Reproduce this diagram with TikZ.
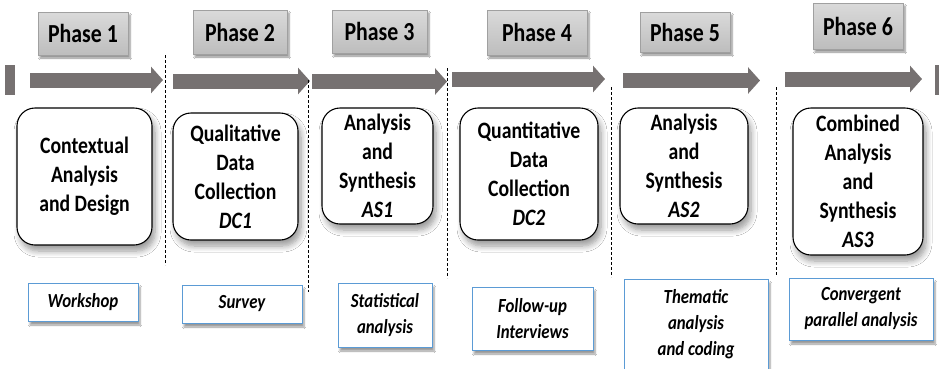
\documentclass[tikz,border=0pt]{standalone}
\usepackage{fontspec}
\setmainfont{Carlito}[FakeStretch=0.84]
\usetikzlibrary{arrows.meta,shadows,shadows.blur}
\definecolor{arrowgray}{HTML}{767171}
\definecolor{phasetop}{HTML}{DADADA}
\definecolor{phasebot}{HTML}{BDBDBD}
\definecolor{phaseline}{HTML}{A0A0A0}
\definecolor{bluebd}{HTML}{5B9BD5}
\tikzset{
  phasebox/.style={draw=phaseline, line width=0.6pt, top color=phasetop, bottom color=phasebot,
    blur shadow={shadow blur steps=6, shadow xshift=2pt, shadow yshift=-3pt, shadow opacity=45},
    font=\bfseries\fontsize{26}{30}\selectfont, inner sep=0pt},
  rbox/.style={draw=black, line width=1.1pt, fill=white, rounded corners=18pt,
    blur shadow={shadow blur steps=8, shadow xshift=3pt, shadow yshift=-6pt, shadow opacity=40, shadow blur radius=6pt},
    align=center, font=\bfseries\fontsize{23.5}{29}\selectfont, inner sep=0pt},
  mbox/.style={draw=bluebd, line width=0.9pt, fill=white,
    blur shadow={shadow blur steps=6, shadow xshift=2pt, shadow yshift=-4pt, shadow opacity=40},
    align=center, font=\bfseries\itshape\fontsize{20}{26}\selectfont, inner sep=0pt},
  flow/.style={draw=arrowgray, line width=15pt, -{Triangle[width=26pt,length=12pt]}},
  sep/.style={draw=black, line width=0.5pt, dash pattern=on 3pt off 2pt},
  bar/.style={fill=arrowgray, draw=none}
}
\begin{document}
\begin{tikzpicture}[x=1pt,y=-1pt]
\useasboundingbox (0,0) rectangle (939,368);
\fill[white] (0,0) rectangle (939,368);
% phase labels
\node[phasebox, minimum width=90pt, minimum height=43pt] (p1) at (83,33.5) {Phase 1};
\node[phasebox, minimum width=94pt, minimum height=44pt] (p2) at (240,32) {Phase 2};
\node[phasebox, minimum width=95pt, minimum height=43pt] (p3) at (379.5,31.5) {Phase 3};
\node[phasebox, minimum width=100pt, minimum height=45pt] (p4) at (537,32.5) {Phase 4};
\node[phasebox, minimum width=90pt, minimum height=40pt] (p5) at (685,32) {Phase 5};
\node[phasebox, minimum width=90pt, minimum height=46pt] (p6) at (858,26) {Phase 6};
% timeline
\fill[bar] (5,65) rectangle (15,95);
\fill[bar] (935,65) rectangle (942,95);
\coordinate (a1s) at (30,80);  \coordinate (a1e) at (163,80);
\coordinate (a2s) at (173,81); \coordinate (a2e) at (310,81);
\coordinate (a3s) at (312,81.5); \coordinate (a3e) at (447,81.5);
\coordinate (a4s) at (452,79); \coordinate (a4e) at (605,79);
\coordinate (a5s) at (623,80.5); \coordinate (a5e) at (760,80.5);
\coordinate (a6s) at (785,79); \coordinate (a6e) at (922,79);
\draw[flow] (a1s) -- (a1e);
\draw[flow] (a2s) -- (a2e);
\draw[flow] (a3s) -- (a3e);
\draw[flow] (a4s) -- (a4e);
\draw[flow] (a5s) -- (a5e);
\draw[flow] (a6s) -- (a6e);
% separators
\coordinate (s1t) at (165,55);  \coordinate (s1b) at (165,265);
\coordinate (s2t) at (308,80);  \coordinate (s2b) at (308,292);
\coordinate (s3t) at (447,68);  \coordinate (s3b) at (447,278);
\coordinate (s4t) at (611,87);  \coordinate (s4b) at (611,277);
\coordinate (s5t) at (776,87);  \coordinate (s5b) at (776,275);
\draw[sep] (s1t) -- (s1b);
\draw[sep] (s2t) -- (s2b);
\draw[sep] (s3t) -- (s3b);
\draw[sep] (s4t) -- (s4b);
\draw[sep] (s5t) -- (s5b);
% activity boxes
\node[rbox, minimum width=135pt, minimum height=137pt] (b1) at (84.5,176.5) {Contextual\\Analysis\\and Design};
\node[rbox, minimum width=125pt, minimum height=127pt] (b2) at (235.5,176.5) {Qualitative\\Data\\Collection\\\textit{DC1}};
\node[rbox, minimum width=111pt, minimum height=116pt] (b3) at (377.5,166) {Analysis\\and\\Synthesis\\\textit{AS1}};
\node[rbox, minimum width=138pt, minimum height=132pt] (b4) at (529,174) {Quantitative\\Data\\Collection\\\textit{DC2}};
\node[rbox, minimum width=128pt, minimum height=116pt] (b5) at (684,166) {Analysis\\and\\Synthesis\\\textit{AS2}};
\node[rbox, minimum width=130pt, minimum height=147pt] (b6) at (858,181.5) {Combined\\Analysis\\and\\Synthesis\\\textit{AS3}};
% method boxes
\node[mbox, minimum width=110pt, minimum height=38pt] (m1) at (83,302) {Workshop};
\node[mbox, minimum width=120pt, minimum height=38pt] (m2) at (242,304) {Survey};
\node[mbox, minimum width=94pt, minimum height=64pt] (m3) at (385,315) {Statistical\\analysis};
\node[mbox, minimum width=121pt, minimum height=63pt] (m4) at (532.5,318.5) {Follow-up\\Interviews};
\node[mbox, minimum width=144pt, minimum height=91pt] (m5) at (696,324.5) {Thematic\\analysis\\and coding};
\node[mbox, minimum width=144pt, minimum height=62pt] (m6) at (861,309) {Convergent\\parallel analysis};
\end{tikzpicture}
\end{document}
